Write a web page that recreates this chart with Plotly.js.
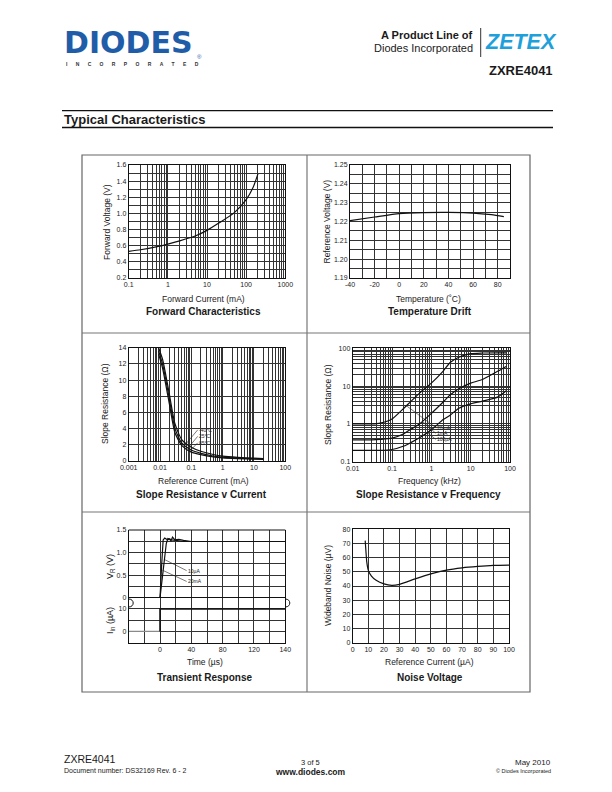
<!DOCTYPE html>
<html>
<head>
<meta charset="utf-8">
<title>ZXRE4041 Typical Characteristics</title>
<script src="https://cdn.plot.ly/plotly-3.0.1.min.js"></script>
<style>
  html, body { margin: 0; padding: 0; background: #fff; }
  #page { width: 612px; height: 792px; }
</style>
</head>
<body>
<div id="page"></div>
<script>
// ---- Forward Characteristics ----
const fwdCurrent = [0.1, 0.2, 0.5, 1, 2, 5, 10, 20, 50, 100, 150, 200];          // mA
const fwdVoltage = [0.53, 0.55, 0.585, 0.62, 0.66, 0.72, 0.79, 0.88, 1.01, 1.17, 1.32, 1.49];
const fwdXDecades = [0.1, 1, 10, 100, 1000];
const fwdXLabels = ['0.1', '1', '10', '100', '1000'];
const fwdYLabelVals = [0.2, 0.4, 0.6, 0.8, 1.0, 1.2, 1.4, 1.6];
const fwdYLabels = ['0.2', '0.4', '0.6', '0.8', '1.0', '1.2', '1.4', '1.6'];

// ---- Temperature Drift ----
const tempC = [-40, -20, 0, 20, 40, 60, 75, 85];
const tempVref = [1.2205, 1.2224, 1.2242, 1.2247, 1.2248, 1.2245, 1.2236, 1.2226];
const tempXLabelVals = [-40, -20, 0, 20, 40, 60, 80];
const tempXLabels = ['-40', '-20', '0', '20', '40', '60', '80'];
const tempYLabelVals = [1.19, 1.20, 1.21, 1.22, 1.23, 1.24, 1.25];
const tempYLabels = ['1.19', '1.20', '1.21', '1.22', '1.23', '1.24', '1.25'];

// ---- Slope Resistance v Current ----
const srCurrent = [0.009, 0.012, 0.015, 0.02, 0.03, 0.05, 0.1, 0.2, 0.5, 1, 3, 10, 20];   // mA
const srMinus40 = [14, 12.6, 10.8, 8.2, 4.6, 2.6, 1.7, 1.2, 0.8, 0.6, 0.45, 0.35, 0.3];
const sr25 = [13.6, 12.0, 10.2, 7.6, 4.0, 2.2, 1.35, 0.95, 0.62, 0.47, 0.35, 0.28, 0.25];
const sr85 = [13.2, 11.5, 9.6, 7.0, 3.5, 1.9, 1.1, 0.78, 0.5, 0.38, 0.3, 0.24, 0.2];
const srXDecades = [0.001, 0.01, 0.1, 1, 10, 100];
const srXLabels = ['0.001', '0.01', '0.1', '1', '10', '100'];
const srYLabelVals = [0, 2, 4, 6, 8, 10, 12, 14];
const srYLabels = ['0', '2', '4', '6', '8', '10', '12', '14'];

// ---- Slope Resistance v Frequency ----
const freqKHz = [0.01, 0.03, 0.05, 0.1, 0.2, 0.3, 0.5, 1, 2, 3, 5, 10, 20, 50, 80];
const srf20mA = [1.0, 1.0, 1.05, 1.35, 2.6, 3.9, 6.5, 12, 25, 42, 58, 72, 75, 76, 76];
const srf1mA = [0.38, 0.38, 0.39, 0.42, 0.55, 0.72, 1.0, 1.9, 3.8, 5.8, 8.5, 12, 15, 25, 33];
const srf100uA = [0.2, 0.2, 0.2, 0.21, 0.26, 0.32, 0.43, 0.7, 1.3, 1.7, 2.6, 3.4, 4.0, 5.2, 7.5];
const freqXDecades = [0.01, 0.1, 1, 10, 100];
const freqXLabels = ['0.01', '0.1', '1', '10', '100'];
const freqYDecades = [0.1, 1, 10, 100];
const freqYLabels = ['0.1', '1', '10', '100'];

// ---- Transient Response ----
const trT20mA = [-40, 0, 2, 4, 6, 8, 10, 12, 15, 20, 30, 160];                 // us
const trV20mA = [0, 0, 0.7, 1.28, 1.32, 1.30, 1.28, 1.30, 1.28, 1.27, 1.245, 1.245];
const trT10uA = [-40, 0, 3, 6, 8, 10, 12, 14, 16, 19, 24, 30, 40, 160];
const trV10uA = [0, 0, 0.45, 0.95, 1.2, 1.31, 1.30, 1.26, 1.34, 1.28, 1.29, 1.27, 1.245, 1.245];
const iinOffT = [-40, 0];          // input current before the step
const iinOffUA = [0, 0];
const iinOnT = [0, 0, 160];        // input current after the step
const iinOnUA = [0, 10, 10];
const trXLabelVals = [0, 40, 80, 120, 160];
const trXLabels = ['0', '40', '80', '120', '140'];
const trVLabelVals = [0, 0.5, 1.0, 1.5];
const trVLabels = ['0', '0.5', '1.0', '1.5'];
const trILabelVals = [0, 10];
const trILabels = ['0', '10'];

// ---- Noise Voltage ----
const noiseI = [8, 8.5, 9, 10, 12, 15, 20, 25, 30, 40, 50, 60, 70, 80, 90, 100];     // uA
const noiseUV = [72, 64, 57, 51, 47, 44, 41.5, 40.5, 41.2, 45, 48.5, 51.2, 52.8, 53.8, 54.5, 54.7];
const noiseXLabelVals = [0, 10, 20, 30, 40, 50, 60, 70, 80, 90, 100];
const noiseXLabels = ['0', '10', '20', '30', '40', '50', '60', '70', '80', '90', '100'];
const noiseYLabelVals = [0, 10, 20, 30, 40, 50, 60, 70, 80];
const noiseYLabels = ['0', '10', '20', '30', '40', '50', '60', '70', '80'];

const FONT = '"Liberation Sans", Arial, Helvetica, sans-serif';
const W = 612, H = 792;
const px = x => x / W;
const py = y => 1 - y / H;
const lg = v => Math.log10(v);

// gridlines at 1..9 of every decade, labels only on the decades
function logTicks(decades, labels) {
    const vals = [], text = [];
    decades.forEach((d, i) => {
        vals.push(d); text.push(labels[i]);
        if (i < decades.length - 1) {
            for (let m = 2; m <= 9; m++) { vals.push(m * d); text.push(''); }
        }
    });
    return {tickvals: vals, ticktext: text};
}

function linTicks(start, end, step, labelVals, labels) {
    const n = Math.round((end - start) / step);
    const vals = [], text = [];
    for (let i = 0; i <= n; i++) {
        const v = +(start + i * step).toFixed(6);
        const k = labelVals.findIndex(l => Math.abs(l - v) < 1e-9);
        vals.push(v);
        text.push(k >= 0 ? labels[k] : '');
    }
    return {tickvals: vals, ticktext: text};
}

function axis(domain, anchor, extra) {
    return Object.assign({
        domain: domain, anchor: anchor,
        showline: true, mirror: true, linecolor: '#111', linewidth: 1,
        showgrid: true, gridcolor: '#333', gridwidth: 1,
        zeroline: false, ticks: '', tickmode: 'array',
        tickfont: {family: FONT, size: 7, color: '#222'},
        automargin: false, fixedrange: true
    }, extra);
}

function line(x, y, xa, ya, color, shape, width) {
    return {
        x: x, y: y, xaxis: xa, yaxis: ya, type: 'scatter', mode: 'lines',
        line: {color: color || '#111', width: width || 1.2, shape: shape || 'spline', smoothing: 0.6},
        hoverinfo: 'skip'
    };
}

const traces = [
    line(fwdCurrent, fwdVoltage, 'x', 'y'),
    line(tempC, tempVref, 'x2', 'y2'),
    line(srCurrent, srMinus40, 'x3', 'y3'),
    line(srCurrent, sr25, 'x3', 'y3'),
    line(srCurrent, sr85, 'x3', 'y3'),
    line(freqKHz, srf20mA, 'x4', 'y4'),
    line(freqKHz, srf1mA, 'x4', 'y4'),
    line(freqKHz, srf100uA, 'x4', 'y4'),
    line(iinOffT, iinOffUA, 'x5', 'y6', '#8a8a8a', 'linear', 1.2),
    line(iinOnT, iinOnUA, 'x5', 'y6', '#111', 'linear', 1.6),
    line(trT10uA, trV10uA, 'x5', 'y5', '#111', 'linear'),
    line(trT20mA, trV20mA, 'x5', 'y5', '#111', 'linear'),
    line(noiseI, noiseUV, 'x6', 'y7')
];

const colL = [px(128.7), px(285.3)];
const layout = {
    width: W, height: H,
    margin: {l: 0, r: 0, t: 0, b: 0},
    paper_bgcolor: '#fff', plot_bgcolor: '#fff',
    showlegend: false,
    font: {family: FONT, color: '#222'},

    xaxis: axis(colL, 'y', Object.assign({type: 'log', range: [-1, 3]}, logTicks(fwdXDecades, fwdXLabels))),
    yaxis: axis([py(278), py(165)], 'x', Object.assign({range: [0.2, 1.6]}, linTicks(0.2, 1.6, 0.1, fwdYLabelVals, fwdYLabels))),

    xaxis2: axis([px(350), px(510)], 'y2', Object.assign({range: [-40, 90]}, linTicks(-40, 90, 10, tempXLabelVals, tempXLabels))),
    yaxis2: axis([py(278), py(165)], 'x2', Object.assign({range: [1.19, 1.25]}, linTicks(1.19, 1.25, 0.005, tempYLabelVals, tempYLabels))),

    xaxis3: axis(colL, 'y3', Object.assign({type: 'log', range: [-3, 2]}, logTicks(srXDecades, srXLabels))),
    yaxis3: axis([py(461), py(347.7)], 'x3', Object.assign({range: [0, 14]}, linTicks(0, 14, 2, srYLabelVals, srYLabels))),

    xaxis4: axis([px(352.7), px(510)], 'y4', Object.assign({type: 'log', range: [-2, 2]}, logTicks(freqXDecades, freqXLabels))),
    yaxis4: axis([py(461.7), py(348.3)], 'x4', Object.assign({type: 'log', range: [-1, 2]}, logTicks(freqYDecades, freqYLabels))),

    xaxis5: axis(colL, 'y6', Object.assign({range: [-40, 160]}, linTicks(-40, 160, 20, trXLabelVals, trXLabels))),
    yaxis5: axis([py(597.7), py(530)], 'x5', Object.assign({range: [0, 1.5]}, linTicks(0, 1.5, 0.25, trVLabelVals, trVLabels))),
    yaxis6: axis([py(642.7), py(597.7)], 'x5', Object.assign({range: [-5, 15]}, linTicks(-5, 15, 5, trILabelVals, trILabels))),

    xaxis6: axis([px(352.7), px(509)], 'y7', Object.assign({range: [0, 100]}, linTicks(0, 100, 10, noiseXLabelVals, noiseXLabels))),
    yaxis7: axis([py(642.7), py(529.3)], 'x6', Object.assign({range: [0, 80]}, linTicks(0, 80, 10, noiseYLabelVals, noiseYLabels)))
};

// page text
function note(text, x, y, size, opts) {
    return Object.assign({
        text: text, x: px(x), y: py(y), xref: 'paper', yref: 'paper',
        showarrow: false, xanchor: 'center', yanchor: 'middle',
        font: {family: FONT, size: size, color: '#1a1a1a'}
    }, opts || {});
}
const BLUE = '#1f5da8';
const letters = 'INCORPORATED'.split('').join('\u00a0\u00a0\u00a0\u00a0\u00a0\u00a0');

const annotations = [
    // header
    note('<b>DIODES</b>', 62, 42.3, 30, {xanchor: 'left', font: {family: '"DejaVu Sans", sans-serif', size: 30, color: BLUE}}),
    note('<b>' + letters + '</b>', 65, 64, 5, {xanchor: 'left', borderpad: 0, font: {family: FONT, size: 5, color: '#333'}}),
    note('®', 199, 57, 6, {font: {family: FONT, size: 6, color: BLUE}}),
    note('<b>A Product Line of</b>', 475, 35, 11, {xanchor: 'right'}),
    note('Diodes Incorporated', 475, 48.3, 11, {xanchor: 'right'}),
    note('<b><i>ZETEX</i></b>', 483, 42, 21.5, {xanchor: 'left', font: {family: FONT, size: 21.5, color: '#1ea0db'}}),
    note('<b>ZXRE4041</b>', 555, 70.5, 13, {xanchor: 'right'}),
    note('<b>Typical Characteristics</b>', 62, 119, 13, {xanchor: 'left'}),

    // chart captions
    note('<b>Forward Characteristics</b>', 203, 311, 10),
    note('<b>Temperature Drift</b>', 430, 311, 10),
    note('<b>Slope Resistance v Current</b>', 201, 494, 10),
    note('<b>Slope Resistance v Frequency</b>', 429, 494, 10),
    note('<b>Transient Response</b>', 205, 677, 10),
    note('<b>Noise Voltage</b>', 430, 677, 10),

    // axis titles
    note('Forward Current (mA)', 203, 299, 8.5),
    note('Temperature (˚C)', 428, 299, 8.5),
    note('Reference Current (mA)', 203, 481, 8.5),
    note('Frequency (kHz)', 430, 481, 8.5),
    note('Time (µs)', 205, 662, 8.5),
    note('Reference Current (µA)', 430, 662, 8.5),
    note('Forward Voltage (V)', 107.5, 221.5, 8.5, {textangle: -90}),
    note('Reference Voltage (V)', 327, 221.5, 8.5, {textangle: -90}),
    note('Slope Resistance (Ω)', 105, 404, 8.5, {textangle: -90}),
    note('Slope Resistance (Ω)', 328, 405, 8.5, {textangle: -90}),
    note('V<sub>R</sub> (V)', 110, 567, 9, {textangle: -90}),
    note('I<sub>in</sub> (µA)', 110, 621, 9, {textangle: -90}),
    note('Wideband Noise (µV)', 328, 586, 8.5, {textangle: -90}),

    // footer
    note('ZXRE4041', 62, 759, 10.5, {xanchor: 'left'}),
    note('Document number: DS32169 Rev. 6 - 2', 62, 770.5, 7, {xanchor: 'left'}),
    note('3 of 5', 310, 762.5, 7.5),
    note('<b>www.diodes.com</b>', 310, 771.5, 8.5),
    note('May 2010', 553, 762.5, 8, {xanchor: 'right'}),
    note('© Diodes Incorporated', 553, 771, 5.5, {xanchor: 'right'})
];

// labels with leader lines inside the plots
function tag(text, xa, ya, x, y, ax, ay) {
    return {
        text: text, xref: xa, yref: ya, axref: xa, ayref: ya,
        x: x, y: y, ax: ax, ay: ay, showarrow: true, arrowhead: 0,
        arrowwidth: 0.6, arrowcolor: '#222', xanchor: 'left', yanchor: 'middle',
        borderpad: 0, font: {family: FONT, size: 5, color: '#222'}
    };
}
annotations.push(
    tag('-40°C', 'x3', 'y3', lg(0.07), 2.2, lg(0.16), 3.85),
    tag('25°C', 'x3', 'y3', lg(0.08), 1.65, lg(0.16), 3.05),
    tag('85°C', 'x3', 'y3', lg(0.09), 1.25, lg(0.16), 2.25),
    tag('20mA', 'x4', 'y4', lg(0.227), lg(3.07), lg(1.3), lg(0.8)),
    tag('1mA', 'x4', 'y4', lg(0.6), lg(1.15), lg(1.3), lg(0.565)),
    tag('100µA', 'x4', 'y4', lg(0.8), lg(0.58), lg(1.3), lg(0.39)),
    tag('10µA', 'x5', 'y5', 6.4, 0.84, 34, 0.6),
    tag('20mA', 'x5', 'y5', 3, 0.61, 34, 0.36)
);
layout.annotations = annotations;

function rule(x0, y0, x1, y1, color, width) {
    return {type: 'line', xref: 'paper', yref: 'paper', x0: px(x0), y0: py(y0), x1: px(x1), y1: py(y1),
        line: {color: color, width: width}};
}
function breakMark(x, y) {
    return {type: 'path', xref: 'paper', yref: 'paper',
        path: 'M' + px(x) + ',' + py(y - 4) + ' C' + px(x + 6) + ',' + py(y - 4) + ' ' + px(x + 6) + ',' + py(y + 4) + ' ' + px(x) + ',' + py(y + 4),
        line: {color: '#111', width: 1}};
}
layout.shapes = [
    rule(480.7, 28, 480.7, 57, '#333', 1),
    rule(62, 110.7, 553, 110.7, '#111', 1.3),
    rule(62, 127.5, 553, 127.5, '#111', 1.3),
    {type: 'rect', xref: 'paper', yref: 'paper', x0: px(82), y0: py(155), x1: px(530), y1: py(692),
        line: {color: '#666', width: 1.2}},
    rule(307, 155, 307, 692, '#777', 1.2),
    rule(82, 333, 530, 333, '#777', 1.2),
    rule(82, 512, 530, 512, '#777', 1.2),
    // top edge of the transient plot (x axis is anchored to the lower panel)
    rule(128.7, 530, 285.3, 530, '#111', 1),
    breakMark(128.7, 603),
    breakMark(285.3, 603),
    // white label patch in the slope resistance v current plot
    {type: 'rect', xref: 'x3', yref: 'y3', layer: 'above', x0: lg(0.14), x1: lg(0.9), y0: 1.9, y1: 4.3,
        fillcolor: '#fff', line: {width: 0}}
];

Plotly.newPlot('page', traces, layout, {staticPlot: true, displayModeBar: false});
</script>
</body>
</html>
